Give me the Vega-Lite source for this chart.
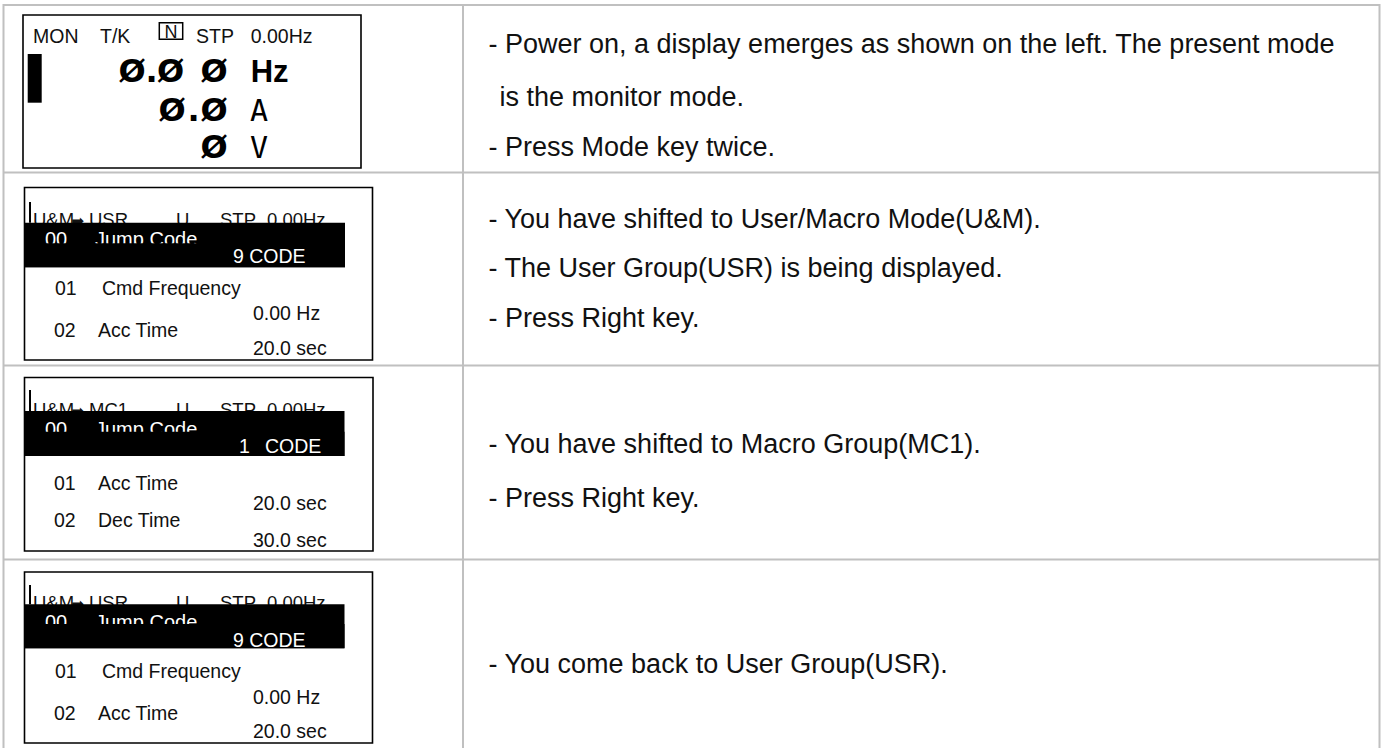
{
  "$schema": "https://vega.github.io/schema/vega-lite/v6.json",
  "width": 1385,
  "height": 748,
  "padding": 0,
  "autosize": {"type": "none"},
  "background": "#ffffff",
  "config": {"view": {"stroke": null}},
  "datasets": {
    "grid": [
      {"x": 3.5, "x2": 1380, "y": 5, "y2": 5},
      {"x": 3.5, "x2": 1380, "y": 172.5, "y2": 172.5},
      {"x": 3.5, "x2": 1380, "y": 365.5, "y2": 365.5},
      {"x": 3.5, "x2": 1380, "y": 559.5, "y2": 559.5},
      {"x": 3.5, "x2": 3.5, "y": 4, "y2": 748},
      {"x": 463, "x2": 463, "y": 4, "y2": 748},
      {"x": 1379.5, "x2": 1379.5, "y": 4, "y2": 748}
    ],
    "panels": [
      {"step": 1, "x": 23, "x2": 361, "y": 15, "y2": 168},
      {"step": 2, "x": 24.5, "x2": 372.5, "y": 187.5, "y2": 360},
      {"step": 3, "x": 24.5, "x2": 373, "y": 377.5, "y2": 551},
      {"step": 4, "x": 24.5, "x2": 372.5, "y": 572, "y2": 743}
    ],
    "blocks": [
      {"part": "flag", "x": 159.3, "x2": 182.7, "y": 22.7, "y2": 39.3},
      {"part": "cursor", "x": 27.7, "x2": 41.7, "y": 54, "y2": 102.7},
      {"part": "bar", "x": 24.5, "x2": 345, "y": 222.7, "y2": 267.3},
      {"part": "bar", "x": 24.5, "x2": 344.5, "y": 411, "y2": 456},
      {"part": "bar", "x": 24.5, "x2": 344.5, "y": 604.3, "y2": 648.3},
      {"part": "mask", "x": 24.5, "x2": 345, "y": 243.3, "y2": 267.3},
      {"part": "mask", "x": 24.5, "x2": 344.5, "y": 431.7, "y2": 456},
      {"part": "mask", "x": 24.5, "x2": 344.5, "y": 624, "y2": 648.3}
    ],
    "ticks": [
      {"x": 30, "x2": 30, "y": 202, "y2": 222.7},
      {"x": 30, "x2": 30, "y": 390, "y2": 411},
      {"x": 30, "x2": 30, "y": 585, "y2": 604.3}
    ],
    "lcd": [
      {"step": 1, "part": "monitor", "label": "MON", "x": 33, "y": 43.3},
      {"step": 1, "part": "monitor", "label": "T/K", "x": 100, "y": 43.3},
      {"step": 1, "part": "flagtext", "label": "N", "x": 171, "y": 37.8},
      {"step": 1, "part": "monitor", "label": "STP", "x": 196, "y": 43.3},
      {"step": 1, "part": "monitor", "label": "0.00Hz", "x": 250.7, "y": 43.3},
      {"step": 1, "part": "big", "label": "Ø", "x": 132, "y": 81.7},
      {"step": 1, "part": "big", "label": ".", "x": 151.5, "y": 81.7},
      {"step": 1, "part": "big", "label": "Ø", "x": 170.5, "y": 81.7},
      {"step": 1, "part": "big", "label": "Ø", "x": 214, "y": 81.7},
      {"step": 1, "part": "big", "label": "Ø", "x": 172, "y": 121.3},
      {"step": 1, "part": "big", "label": ".", "x": 193.5, "y": 121.3},
      {"step": 1, "part": "big", "label": "Ø", "x": 214, "y": 121.3},
      {"step": 1, "part": "big", "label": "Ø", "x": 214, "y": 157.8},
      {"step": 1, "part": "unitbold", "label": "Hz", "x": 250.7, "y": 81.7},
      {"step": 1, "part": "unit", "label": "A", "x": 250, "y": 121.3},
      {"step": 1, "part": "unit", "label": "V", "x": 250, "y": 157.8},

      {"step": 2, "part": "status", "label": "U&M", "x": 33, "y": 225.5},
      {"step": 2, "part": "arrow", "label": "➡", "x": 71.5, "y": 225.5},
      {"step": 2, "part": "status", "label": "USR", "x": 89, "y": 225.5},
      {"step": 2, "part": "status", "label": "U", "x": 176, "y": 225.5},
      {"step": 2, "part": "status", "label": "STP", "x": 220, "y": 225.5},
      {"step": 2, "part": "status", "label": "0.00Hz", "x": 267, "y": 225.5},
      {"step": 2, "part": "selected", "label": "00", "x": 45, "y": 245.5},
      {"step": 2, "part": "selected", "label": "Jump Code", "x": 95, "y": 245.5},
      {"step": 2, "part": "code", "label": "9 CODE", "x": 233, "y": 263.3},
      {"step": 2, "part": "item", "label": "01", "x": 55, "y": 295},
      {"step": 2, "part": "item", "label": "Cmd Frequency", "x": 102, "y": 295},
      {"step": 2, "part": "item", "label": "0.00 Hz", "x": 253, "y": 320},
      {"step": 2, "part": "item", "label": "02", "x": 54, "y": 336.7},
      {"step": 2, "part": "item", "label": "Acc Time", "x": 98, "y": 336.7},
      {"step": 2, "part": "item", "label": "20.0 sec", "x": 253, "y": 355},

      {"step": 3, "part": "status", "label": "U&M", "x": 33, "y": 415.5},
      {"step": 3, "part": "arrow", "label": "➡", "x": 71.5, "y": 415.5},
      {"step": 3, "part": "status", "label": "MC1", "x": 89, "y": 415.5},
      {"step": 3, "part": "status", "label": "U", "x": 176, "y": 415.5},
      {"step": 3, "part": "status", "label": "STP", "x": 220, "y": 415.5},
      {"step": 3, "part": "status", "label": "0.00Hz", "x": 267, "y": 415.5},
      {"step": 3, "part": "selected", "label": "00", "x": 45, "y": 436},
      {"step": 3, "part": "selected", "label": "Jump Code", "x": 95, "y": 436},
      {"step": 3, "part": "code", "label": "1", "x": 239, "y": 453},
      {"step": 3, "part": "code", "label": "CODE", "x": 265, "y": 453},
      {"step": 3, "part": "item", "label": "01", "x": 54, "y": 490},
      {"step": 3, "part": "item", "label": "Acc Time", "x": 98, "y": 490},
      {"step": 3, "part": "item", "label": "20.0 sec", "x": 253, "y": 510},
      {"step": 3, "part": "item", "label": "02", "x": 54, "y": 526.7},
      {"step": 3, "part": "item", "label": "Dec Time", "x": 98, "y": 526.7},
      {"step": 3, "part": "item", "label": "30.0 sec", "x": 253, "y": 546.7},

      {"step": 4, "part": "status", "label": "U&M", "x": 33, "y": 609},
      {"step": 4, "part": "arrow", "label": "➡", "x": 71.5, "y": 609},
      {"step": 4, "part": "status", "label": "USR", "x": 89, "y": 609},
      {"step": 4, "part": "status", "label": "U", "x": 176, "y": 609},
      {"step": 4, "part": "status", "label": "STP", "x": 220, "y": 609},
      {"step": 4, "part": "status", "label": "0.00Hz", "x": 267, "y": 609},
      {"step": 4, "part": "selected", "label": "00", "x": 45, "y": 629},
      {"step": 4, "part": "selected", "label": "Jump Code", "x": 95, "y": 629},
      {"step": 4, "part": "code", "label": "9 CODE", "x": 233, "y": 646.7},
      {"step": 4, "part": "item", "label": "01", "x": 55, "y": 678.3},
      {"step": 4, "part": "item", "label": "Cmd Frequency", "x": 102, "y": 678.3},
      {"step": 4, "part": "item", "label": "0.00 Hz", "x": 253, "y": 704},
      {"step": 4, "part": "item", "label": "02", "x": 54, "y": 720},
      {"step": 4, "part": "item", "label": "Acc Time", "x": 98, "y": 720},
      {"step": 4, "part": "item", "label": "20.0 sec", "x": 253, "y": 738.3}
    ],
    "notes": [
      {"step": 1, "label": "- Power on, a display emerges as shown on the left. The present mode", "x": 488.5, "y": 52.7},
      {"step": 1, "label": "is the monitor mode.", "x": 499.5, "y": 106.3},
      {"step": 1, "label": "- Press Mode key twice.", "x": 488.5, "y": 156},
      {"step": 2, "label": "- You have shifted to User/Macro Mode(U&M).", "x": 488.5, "y": 228.3},
      {"step": 2, "label": "- The User Group(USR) is being displayed.", "x": 488.5, "y": 276.7},
      {"step": 2, "label": "- Press Right key.", "x": 488.5, "y": 326.7},
      {"step": 3, "label": "- You have shifted to Macro Group(MC1).", "x": 488.5, "y": 453.3},
      {"step": 3, "label": "- Press Right key.", "x": 488.5, "y": 506.7},
      {"step": 4, "label": "- You come back to User Group(USR).", "x": 488.5, "y": 673.3}
    ]
  },
  "layer": [
    {
      "data": {"name": "grid"},
      "mark": {"type": "rule", "color": "#c0c0c0", "strokeWidth": 2},
      "encoding": {
        "x": {"field": "x", "type": "quantitative", "scale": {"domain": [0, 1385], "nice": false, "zero": false}, "axis": null},
        "x2": {"field": "x2"},
        "y": {"field": "y", "type": "quantitative", "scale": {"domain": [0, 748], "nice": false, "zero": false, "reverse": true}, "axis": null},
        "y2": {"field": "y2"}
      }
    },
    {
      "data": {"name": "panels"},
      "mark": {"type": "rect", "fill": "#ffffff", "stroke": "#000000", "strokeWidth": 1.6},
      "encoding": {
        "x": {"field": "x", "type": "quantitative", "axis": null},
        "x2": {"field": "x2"},
        "y": {"field": "y", "type": "quantitative", "axis": null},
        "y2": {"field": "y2"}
      }
    },
    {
      "data": {"name": "blocks"},
      "transform": [{"filter": "datum.part === 'flag'"}],
      "mark": {"type": "rect", "fill": null, "fillOpacity": 0, "stroke": "#000000", "strokeWidth": 1.5},
      "encoding": {
        "x": {"field": "x", "type": "quantitative", "axis": null},
        "x2": {"field": "x2"},
        "y": {"field": "y", "type": "quantitative", "axis": null},
        "y2": {"field": "y2"}
      }
    },
    {
      "data": {"name": "lcd"},
      "transform": [{"filter": "datum.part === 'monitor'"}],
      "mark": {"type": "text", "align": "left", "baseline": "alphabetic", "font": "Liberation Sans", "fontSize": 19.5, "color": "#111111"},
      "encoding": {
        "x": {"field": "x", "type": "quantitative", "axis": null},
        "y": {"field": "y", "type": "quantitative", "axis": null},
        "text": {"field": "label"}
      }
    },
    {
      "data": {"name": "lcd"},
      "transform": [{"filter": "datum.part === 'flagtext'"}],
      "mark": {"type": "text", "align": "center", "baseline": "alphabetic", "font": "Liberation Sans", "fontSize": 18, "color": "#111111"},
      "encoding": {
        "x": {"field": "x", "type": "quantitative", "axis": null},
        "y": {"field": "y", "type": "quantitative", "axis": null},
        "text": {"field": "label"}
      }
    },
    {
      "data": {"name": "lcd"},
      "transform": [{"filter": "datum.part === 'status'"}],
      "mark": {"type": "text", "align": "left", "baseline": "alphabetic", "font": "Liberation Sans Narrow, Liberation Sans", "fontSize": 18.5, "color": "#111111"},
      "encoding": {
        "x": {"field": "x", "type": "quantitative", "axis": null},
        "y": {"field": "y", "type": "quantitative", "axis": null},
        "text": {"field": "label"}
      }
    },
    {
      "data": {"name": "lcd"},
      "transform": [{"filter": "datum.part === 'arrow'"}],
      "mark": {"type": "text", "align": "left", "baseline": "alphabetic", "font": "DejaVu Sans", "fontSize": 15, "color": "#111111"},
      "encoding": {
        "x": {"field": "x", "type": "quantitative", "axis": null},
        "y": {"field": "y", "type": "quantitative", "axis": null},
        "text": {"field": "label"}
      }
    },
    {
      "data": {"name": "blocks"},
      "transform": [{"filter": "datum.part === 'bar' || datum.part === 'cursor'"}],
      "mark": {"type": "rect", "fill": "#000000"},
      "encoding": {
        "x": {"field": "x", "type": "quantitative", "axis": null},
        "x2": {"field": "x2"},
        "y": {"field": "y", "type": "quantitative", "axis": null},
        "y2": {"field": "y2"}
      }
    },
    {
      "data": {"name": "ticks"},
      "mark": {"type": "rule", "color": "#000000", "strokeWidth": 2},
      "encoding": {
        "x": {"field": "x", "type": "quantitative", "axis": null},
        "x2": {"field": "x2"},
        "y": {"field": "y", "type": "quantitative", "axis": null},
        "y2": {"field": "y2"}
      }
    },
    {
      "data": {"name": "lcd"},
      "transform": [{"filter": "datum.part === 'selected'"}],
      "mark": {"type": "text", "align": "left", "baseline": "alphabetic", "font": "Liberation Sans", "fontSize": 20, "color": "#ffffff"},
      "encoding": {
        "x": {"field": "x", "type": "quantitative", "axis": null},
        "y": {"field": "y", "type": "quantitative", "axis": null},
        "text": {"field": "label"}
      }
    },
    {
      "data": {"name": "blocks"},
      "transform": [{"filter": "datum.part === 'mask'"}],
      "mark": {"type": "rect", "fill": "#000000"},
      "encoding": {
        "x": {"field": "x", "type": "quantitative", "axis": null},
        "x2": {"field": "x2"},
        "y": {"field": "y", "type": "quantitative", "axis": null},
        "y2": {"field": "y2"}
      }
    },
    {
      "data": {"name": "lcd"},
      "transform": [{"filter": "datum.part === 'code'"}],
      "mark": {"type": "text", "align": "left", "baseline": "alphabetic", "font": "Liberation Sans", "fontSize": 19.5, "color": "#ffffff"},
      "encoding": {
        "x": {"field": "x", "type": "quantitative", "axis": null},
        "y": {"field": "y", "type": "quantitative", "axis": null},
        "text": {"field": "label"}
      }
    },
    {
      "data": {"name": "lcd"},
      "transform": [{"filter": "datum.part === 'item'"}],
      "mark": {"type": "text", "align": "left", "baseline": "alphabetic", "font": "Liberation Sans", "fontSize": 19.5, "color": "#111111"},
      "encoding": {
        "x": {"field": "x", "type": "quantitative", "axis": null},
        "y": {"field": "y", "type": "quantitative", "axis": null},
        "text": {"field": "label"}
      }
    },
    {
      "data": {"name": "lcd"},
      "transform": [{"filter": "datum.part === 'big'"}],
      "mark": {"type": "text", "align": "center", "baseline": "alphabetic", "font": "DejaVu Sans", "fontWeight": "bold", "fontSize": 32, "color": "#000000"},
      "encoding": {
        "x": {"field": "x", "type": "quantitative", "axis": null},
        "y": {"field": "y", "type": "quantitative", "axis": null},
        "text": {"field": "label"}
      }
    },
    {
      "data": {"name": "lcd"},
      "transform": [{"filter": "datum.part === 'unitbold'"}],
      "mark": {"type": "text", "align": "left", "baseline": "alphabetic", "font": "Liberation Sans", "fontWeight": "bold", "fontSize": 31, "color": "#000000"},
      "encoding": {
        "x": {"field": "x", "type": "quantitative", "axis": null},
        "y": {"field": "y", "type": "quantitative", "axis": null},
        "text": {"field": "label"}
      }
    },
    {
      "data": {"name": "lcd"},
      "transform": [{"filter": "datum.part === 'unit'"}],
      "mark": {"type": "text", "align": "left", "baseline": "alphabetic", "font": "DejaVu Sans Mono", "fontSize": 30, "color": "#000000"},
      "encoding": {
        "x": {"field": "x", "type": "quantitative", "axis": null},
        "y": {"field": "y", "type": "quantitative", "axis": null},
        "text": {"field": "label"}
      }
    },
    {
      "data": {"name": "notes"},
      "mark": {"type": "text", "align": "left", "baseline": "alphabetic", "font": "Liberation Sans", "fontSize": 27, "color": "#111111"},
      "encoding": {
        "x": {"field": "x", "type": "quantitative", "axis": null},
        "y": {"field": "y", "type": "quantitative", "axis": null},
        "text": {"field": "label"}
      }
    }
  ]
}
